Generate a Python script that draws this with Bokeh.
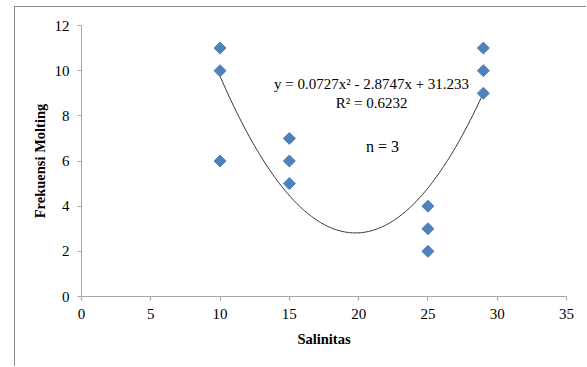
import numpy as np
from bokeh.plotting import figure
from bokeh.models import FixedTicker, Label, ColumnDataSource
from bokeh.embed import file_html
from bokeh.resources import INLINE

# Data
salinitas = [10, 10, 10, 15, 15, 15, 25, 25, 25, 29, 29, 29]
molting = [11, 10, 6, 7, 6, 5, 4, 3, 2, 11, 10, 9]

# Polynomial trendline coefficients (as printed on the chart)
trend_coef = [0.0727, -2.8747, 31.233]
trend_r2 = 0.6232
n_rep = 3

x_ticks = [0, 5, 10, 15, 20, 25, 30, 35]
y_ticks = [0, 2, 4, 6, 8, 10, 12]

FONT = "Liberation Serif"

p = figure(width=572, height=360, x_range=(0, 35), y_range=(0, 12),
           output_backend="svg", toolbar_location=None,
           min_border_left=66, min_border_right=21, min_border_top=18, min_border_bottom=71,
           styles={"border-top": "1px solid #8a8a8a", "border-left": "1px solid #8a8a8a",
                   "margin-left": "14px", "margin-top": "6px"})
p.outline_line_color = None
p.xgrid.visible = False
p.ygrid.visible = False
p.background_fill_color = "white"
p.border_fill_color = "white"

for ax in (p.xaxis[0], p.yaxis[0]):
    ax.axis_line_color = "#a6a6a6"
    ax.major_tick_line_color = "#a6a6a6"
    ax.major_tick_in = 0
    ax.major_tick_out = 4
    ax.minor_tick_line_color = None
    ax.major_label_text_font = FONT
    ax.major_label_text_font_size = "15px"
    ax.major_label_text_color = "black"
    ax.axis_label_text_font = FONT
    ax.axis_label_text_font_size = "14.5px"
    ax.axis_label_text_font_style = "bold"
    ax.axis_label_text_color = "black"

p.xaxis.ticker = FixedTicker(ticks=x_ticks)
p.yaxis.ticker = FixedTicker(ticks=y_ticks)
p.xaxis.axis_label = "Salinitas"
p.yaxis.axis_label = "Frekuensi Molting"
p.xaxis.major_label_standoff = 8
p.yaxis.major_label_standoff = 8
p.xaxis.axis_label_standoff = 9
p.yaxis.axis_label_standoff = 4

# Trendline
xs = np.linspace(min(salinitas), max(salinitas), 200)
ys = np.polyval(trend_coef, xs)
p.line(xs, ys, line_color="#333333", line_width=1)

# Points
src = ColumnDataSource(dict(x=salinitas, y=molting))
p.scatter("x", "y", source=src, marker="square", size=8.5, angle=np.pi / 4,
          fill_color="#4F81BD", line_color="#4F81BD")

eq = "y = %.4fx² - %.4fx + %.3f" % (trend_coef[0], -trend_coef[1], trend_coef[2])
for txt, x, y, fs in [(eq, 20.93, 9.43, "15px"), ("R² = %.4f" % trend_r2, 20.93, 8.55, "15px"),
                      ("n = %d" % n_rep, 21.72, 6.64, "16px")]:
    p.add_layout(Label(x=x, y=y, text=txt, text_font=FONT, text_font_size=fs,
                       text_align="center", text_baseline="middle", text_color="black"))

open("out.html", "w").write(file_html(p, INLINE))
